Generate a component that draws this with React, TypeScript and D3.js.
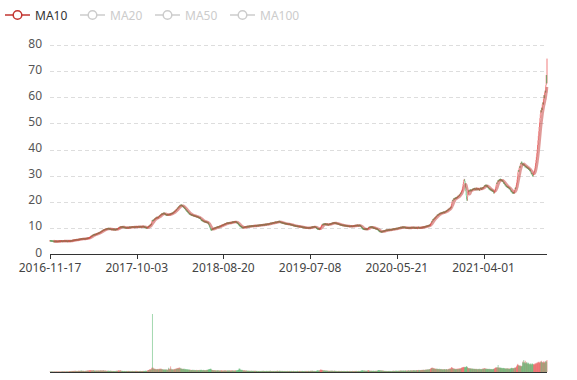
import React from 'react';
import * as d3 from 'd3';

// x-axis tick labels (one label every `tickStep` trading days, first at index 0)
const tickLabels = ['2016-11-17', '2017-10-03', '2018-08-20', '2019-07-08', '2020-05-21', '2021-04-01'];
const tickStep = 220;

const legendNames = ['MA10', 'MA20', 'MA50', 'MA100'];
const activeLegend = ['MA10'];
const yTickValues = [0, 10, 20, 30, 40, 50, 60, 70, 80];

// daily closing prices
const closes = [
5.1,5.0,5.1,5.0,4.9,5.0,4.9,4.9,4.8,4.9,4.8,4.8,4.7,4.8,4.8,4.9,4.8,4.7,4.8,4.8,4.9,4.8,4.8,4.9,4.9,
4.8,4.9,4.9,5.0,4.9,4.9,4.8,4.9,5.0,4.9,4.9,5.0,5.0,4.9,5.0,4.9,4.9,5.0,4.9,4.8,4.9,4.9,5.0,4.9,4.9,
5.0,5.0,4.9,5.0,5.1,5.0,5.1,5.2,5.1,5.2,5.3,5.2,5.3,5.3,5.4,5.3,5.4,5.5,5.4,5.4,5.5,5.4,5.5,5.6,5.5,
5.6,5.7,5.6,5.7,5.8,5.7,5.8,5.8,5.7,5.8,5.9,5.8,5.8,5.7,5.8,5.9,5.8,5.9,6.0,5.9,6.0,6.1,6.0,6.1,6.2,
6.2,6.3,6.5,6.6,6.8,6.7,6.9,7.1,7.0,7.2,7.4,7.3,7.5,7.4,7.3,7.5,7.6,7.5,7.7,7.8,7.7,7.9,8.0,7.9,8.1,
8.2,8.1,8.3,8.5,8.4,8.6,8.8,8.7,8.9,9.1,9.0,9.2,9.3,9.2,9.4,9.5,9.3,9.5,9.6,9.5,9.7,9.6,9.8,9.7,9.6,
9.7,9.6,9.5,9.6,9.4,9.5,9.3,9.4,9.5,9.3,9.4,9.3,9.5,9.4,9.3,9.2,9.4,9.3,9.5,9.4,9.6,9.5,9.7,9.8,9.9,
10.0,10.2,10.1,10.3,10.4,10.2,10.4,10.3,10.5,10.3,10.2,10.4,10.2,10.1,10.2,10.0,10.1,10.0,9.9,10.1,10.0,10.1,10.2,10.0,10.1,
10.2,10.1,10.3,10.2,10.1,10.2,10.3,10.2,10.3,10.4,10.3,10.2,10.3,10.4,10.3,10.2,10.3,10.4,10.3,10.4,10.5,10.3,10.4,10.3,10.4,
10.5,10.4,10.3,10.4,10.5,10.4,10.3,10.4,10.5,10.4,10.5,10.6,10.4,10.5,10.3,10.2,10.3,10.1,10.0,10.1,10.0,9.9,10.1,10.2,10.4,
10.6,10.5,10.8,11.0,10.9,11.2,11.4,11.3,12.4,12.9,12.6,12.8,13.0,12.9,13.2,13.4,13.3,13.6,13.8,13.7,13.9,14.1,13.9,14.0,13.8,
14.1,14.3,14.6,14.4,14.8,15.0,14.8,15.2,15.4,15.1,15.5,15.3,15.6,15.4,15.7,15.5,15.2,15.4,15.1,14.9,15.0,14.8,15.1,14.9,15.0,
15.2,14.9,15.1,15.3,15.0,15.2,15.5,15.3,15.6,15.4,15.7,15.5,15.8,16.0,15.9,16.2,16.4,16.3,16.6,16.8,17.0,16.9,17.3,17.6,17.4,
17.8,18.1,17.9,18.3,18.6,18.4,18.7,18.5,18.8,18.6,18.3,18.5,18.2,17.9,18.1,17.7,17.4,17.6,17.2,16.9,17.0,16.6,16.3,16.5,16.1,
15.8,16.0,15.6,15.3,15.5,15.1,15.3,14.9,15.1,14.8,15.0,14.7,14.9,14.6,14.8,14.5,14.7,14.4,14.6,14.3,14.5,14.2,14.4,14.1,14.3,
14.0,14.2,13.9,13.7,13.9,13.6,13.8,13.4,13.1,12.8,13.0,12.7,12.9,12.6,12.4,12.6,12.3,12.5,12.2,12.4,12.1,12.3,12.0,12.2,11.9,
12.1,11.8,11.6,11.2,10.8,10.4,10.0,9.6,9.3,9.1,9.4,9.2,9.5,9.7,9.6,9.8,9.7,9.9,10.0,9.9,10.1,10.0,10.2,10.1,10.3,
10.2,10.4,10.3,10.5,10.4,10.6,10.5,10.7,10.6,10.8,10.9,11.0,10.9,11.1,11.2,11.1,11.3,11.4,11.3,11.5,11.6,11.5,11.7,11.8,11.7,
11.9,11.8,11.7,11.9,11.8,12.0,11.9,11.8,12.0,12.1,11.9,12.0,12.2,12.1,12.3,12.2,12.1,12.3,12.4,12.2,12.3,12.4,12.2,12.1,12.0,
11.9,11.8,11.6,11.4,11.2,11.0,10.9,10.7,10.5,10.6,10.4,10.3,10.2,10.0,10.1,10.2,10.0,10.1,10.3,10.2,10.3,10.4,10.3,10.5,10.4,
10.5,10.4,10.6,10.5,10.4,10.6,10.5,10.7,10.6,10.5,10.7,10.6,10.8,10.7,10.6,10.8,10.7,10.6,10.8,10.9,10.7,10.8,10.9,10.8,10.7,
10.9,10.8,11.0,10.9,10.8,11.0,10.9,11.1,11.0,10.9,11.1,11.0,11.2,11.1,11.0,11.2,11.1,11.3,11.2,11.1,11.3,11.2,11.4,11.3,11.2,
11.4,11.3,11.5,11.4,11.3,11.5,11.6,11.5,11.7,11.6,11.8,11.7,11.6,11.8,11.9,11.8,12.0,11.9,11.8,12.0,12.1,12.0,12.2,12.1,12.0,
12.2,12.1,12.3,12.2,12.4,12.3,12.5,12.4,12.2,12.3,12.1,12.0,12.1,11.9,12.0,11.8,11.9,11.8,11.7,11.8,11.6,11.7,11.6,11.5,11.6,
11.5,11.6,11.4,11.5,11.3,11.4,11.5,11.3,11.4,11.3,11.2,11.3,11.1,11.2,11.0,11.1,10.9,11.0,10.9,10.8,10.9,10.7,10.8,10.7,10.6,
10.7,10.6,10.7,10.5,10.6,10.5,10.6,10.4,10.5,10.6,10.4,10.5,10.3,10.4,10.3,10.2,10.3,10.2,10.1,10.2,10.1,10.2,10.0,10.1,10.0,
10.1,9.9,10.0,10.1,9.9,10.0,9.9,10.0,10.1,10.0,9.9,10.1,10.2,10.1,10.3,10.2,10.4,10.3,10.2,10.4,10.5,10.3,10.4,10.2,10.3,
10.1,10.0,9.8,9.7,9.6,9.5,9.7,9.6,9.4,9.5,9.7,9.9,10.3,10.6,10.9,11.1,11.3,11.2,11.4,11.3,11.5,11.4,11.3,11.5,11.4,
11.3,11.2,11.4,11.3,11.2,11.3,11.1,11.2,11.4,11.3,11.5,11.4,11.6,11.5,11.7,11.6,11.8,11.7,11.9,11.8,11.9,12.0,11.8,11.9,11.8,
11.7,11.8,11.6,11.7,11.5,11.6,11.4,11.5,11.3,11.4,11.2,11.3,11.1,11.2,11.0,11.1,11.0,10.9,11.0,10.9,11.0,10.8,10.9,10.8,10.9,
10.8,10.7,10.8,10.7,10.8,10.6,10.7,10.6,10.7,10.5,10.6,10.7,10.5,10.6,10.7,10.6,10.5,10.6,10.7,10.6,10.7,10.8,10.7,10.8,10.9,
10.8,10.9,10.8,10.9,11.0,10.9,10.8,10.9,10.8,11.0,10.9,10.8,10.9,10.7,10.5,10.3,10.1,9.9,9.7,9.6,9.5,9.6,9.4,9.5,9.4,
9.6,9.5,9.4,9.6,9.5,9.4,9.6,9.8,10.0,10.2,10.1,10.3,10.2,10.4,10.3,10.2,10.4,10.3,10.1,10.2,10.0,9.9,10.0,9.8,9.9,
9.7,9.8,9.6,9.7,9.5,9.6,9.4,9.3,9.1,8.9,8.8,8.6,8.7,8.5,8.6,8.5,8.4,8.6,8.5,8.7,8.6,8.8,8.7,8.9,8.8,
9.0,8.9,9.1,9.0,9.2,9.1,9.0,9.2,9.1,9.3,9.2,9.1,9.3,9.2,9.4,9.3,9.2,9.4,9.3,9.5,9.4,9.6,9.5,9.4,9.6,
9.5,9.7,9.6,9.8,9.7,9.6,9.8,9.7,9.9,9.8,10.0,9.9,10.1,10.0,10.2,10.1,10.0,10.2,10.1,10.3,10.2,10.1,10.3,10.2,10.1,
10.2,10.1,10.0,10.1,9.9,10.0,10.1,9.9,10.0,9.9,10.1,10.0,9.9,10.0,10.1,10.0,9.9,10.1,10.2,10.0,10.1,10.0,10.2,10.1,10.0,
10.1,10.0,9.9,10.0,10.1,10.0,9.9,10.0,10.1,10.2,10.0,10.1,10.0,9.9,10.0,10.1,10.0,10.1,10.2,10.1,10.2,10.3,10.2,10.3,10.4,
10.3,10.4,10.5,10.4,10.6,10.5,10.7,10.6,10.8,10.7,10.9,10.8,11.0,10.9,11.1,11.3,11.6,12.0,12.4,12.3,12.8,13.2,13.0,13.4,13.3,
13.6,13.9,13.7,14.1,14.4,14.2,14.6,14.9,14.7,15.1,14.9,15.2,15.4,15.3,15.6,15.4,15.7,15.5,15.8,15.6,15.9,15.7,16.0,15.8,16.1,
16.0,15.8,16.1,16.3,16.2,16.5,16.4,16.7,16.6,16.9,17.1,16.9,17.3,17.5,17.2,17.6,17.9,17.7,18.6,19.4,20.1,20.6,20.3,20.8,21.2,
20.9,21.3,21.1,21.5,21.2,21.6,21.4,21.8,21.5,21.9,22.2,21.9,22.3,22.6,22.4,22.9,23.3,23.1,23.7,24.0,24.2,25.0,25.9,26.8,27.6,
28.3,28.6,27.9,27.0,25.6,24.0,22.4,20.9,20.4,21.9,23.0,23.6,24.3,23.9,24.5,24.1,24.7,24.3,24.0,24.6,24.2,24.8,24.5,25.0,24.6,
25.1,24.8,25.2,24.9,24.5,24.9,25.3,24.8,24.4,24.9,25.2,24.7,25.1,24.6,24.3,24.8,25.2,24.9,25.4,25.0,24.6,25.1,25.5,25.1,25.6,
25.3,25.8,26.2,25.9,26.4,26.0,26.5,26.1,25.7,26.2,25.8,25.3,25.6,25.1,24.8,25.2,24.7,24.4,24.9,24.5,24.1,24.6,24.2,23.9,24.3,
23.7,23.2,23.6,23.9,24.4,25.1,25.9,26.6,27.2,27.0,27.6,28.1,27.7,28.3,28.0,28.6,28.2,28.7,28.4,28.0,28.5,28.1,27.7,28.2,27.8,
27.4,27.0,27.3,26.8,26.4,26.7,26.2,25.8,26.1,25.7,25.4,25.8,25.3,25.6,25.2,24.9,25.3,24.8,24.5,24.1,23.8,24.2,23.6,23.3,23.7,
23.2,23.6,23.1,23.9,24.6,25.3,25.0,25.8,26.4,27.3,28.5,29.8,31.2,32.0,31.6,32.8,33.5,33.1,34.2,34.8,34.4,35.3,34.9,34.5,34.0,
34.6,34.2,33.8,34.3,33.7,33.2,33.8,33.4,32.9,33.5,33.1,32.6,33.2,32.7,32.3,32.8,32.2,31.8,32.3,31.6,31.2,30.6,31.0,30.4,30.0,
29.8,30.2,30.8,31.5,32.0,32.8,33.6,34.8,36.0,37.2,38.6,40.0,41.8,43.5,45.2,47.0,48.6,50.4,52.0,53.5,55.0,54.2,56.0,55.1,57.3,
58.0,57.2,59.5,60.8,59.6,61.9,62.5,61.8,64.6,68.5,65.3,74.8
];

// daily volume (relative units)
const volumes = [
2,3,2,2,3,2,2,3,2,2,2,3,2,2,2,3,2,2,3,2,2,2,3,2,2,
3,2,2,3,2,3,4,3,2,3,3,4,3,2,3,3,2,3,4,3,3,2,3,3,4,
4,5,4,3,5,4,6,5,4,5,6,5,4,6,7,5,4,5,6,5,4,5,6,7,5,
6,5,7,6,5,8,6,5,6,7,5,6,5,4,6,5,6,7,5,6,7,8,6,7,9,
8,7,9,8,10,7,8,9,7,8,10,8,6,7,8,7,6,8,7,6,7,8,6,7,8,
7,6,8,7,9,8,7,6,8,7,9,8,7,6,7,8,6,7,6,5,7,6,5,6,7,
6,5,6,5,7,6,5,4,6,5,4,5,6,5,4,5,6,4,5,6,7,6,5,7,8,
7,8,6,7,9,7,6,5,6,5,6,4,5,4,5,6,4,5,4,5,6,5,4,5,6,
5,4,5,6,4,5,4,5,4,6,5,4,5,4,5,4,6,5,4,5,6,4,5,4,5,
4,5,4,5,6,4,5,4,5,4,5,6,5,4,6,5,4,6,7,5,6,5,7,8,9,
10,9,12,14,11,13,15,12,22,18,300,24,20,16,18,15,17,14,16,13,15,12,14,16,13,
15,13,17,14,16,18,15,13,17,14,12,15,13,11,14,12,13,11,12,14,11,13,12,10,12,
14,22,18,15,12,16,29,18,14,12,15,13,11,14,12,16,13,15,17,14,18,16,19,21,17,
19,22,18,20,24,19,17,21,18,16,15,17,14,16,15,18,14,13,16,14,12,15,13,11,14,
13,11,12,14,11,10,12,9,11,10,9,11,10,12,9,10,8,11,9,10,8,9,11,8,10,
9,8,10,9,11,8,9,10,12,11,9,10,8,9,11,10,8,9,10,8,9,10,8,11,12,
10,11,13,14,12,15,16,14,18,13,12,11,10,9,10,8,9,10,8,7,9,8,7,8,9,
8,7,9,8,7,8,6,7,8,9,7,8,6,7,8,7,6,8,7,9,8,7,6,7,8,
7,8,6,7,9,8,7,6,8,7,6,9,8,7,8,6,7,8,7,6,8,7,9,8,7,
8,9,10,12,11,19,14,17,12,10,11,9,12,10,8,9,7,8,9,7,8,6,7,8,7,
6,7,5,6,7,6,5,7,6,5,6,7,5,6,5,7,6,5,6,5,7,6,5,6,5,
6,5,4,6,5,4,5,6,4,5,4,6,5,4,5,6,7,5,4,5,6,5,4,5,6,
5,6,4,5,6,5,4,6,5,7,6,5,4,5,6,5,4,5,6,4,5,6,5,4,5,
6,5,7,6,5,4,6,5,7,6,5,4,5,6,4,5,6,5,4,5,4,6,5,4,5,
4,5,6,4,5,4,5,6,5,4,5,4,6,5,4,5,4,5,6,4,5,4,5,4,5,
4,5,4,6,5,4,5,4,5,6,4,5,4,5,4,6,5,4,5,4,5,4,6,5,4,
5,4,6,5,4,5,6,4,5,4,6,5,7,6,5,6,7,5,6,5,4,6,5,4,5,
6,5,7,6,8,9,7,6,8,7,9,11,13,12,10,9,11,8,9,7,8,9,7,8,7,
6,7,8,6,7,6,5,7,6,5,6,7,5,6,7,6,5,7,6,5,6,5,7,6,5,
6,5,4,6,5,4,5,6,4,5,6,5,4,5,4,6,5,4,5,4,5,6,4,5,4,
5,4,5,4,6,5,4,5,4,5,4,6,5,4,5,4,5,4,6,5,4,5,4,5,6,
5,4,5,6,4,5,4,5,6,5,4,5,6,5,7,6,8,9,7,8,6,7,8,6,7,
6,7,5,6,7,6,8,7,9,8,7,6,7,6,5,6,7,5,6,5,7,6,5,6,5,
6,5,7,6,5,7,6,8,9,10,8,9,7,8,9,7,8,6,7,8,6,7,6,5,6,
5,6,5,4,6,5,4,5,6,5,4,6,5,4,5,6,5,4,5,6,5,7,6,5,6,
5,6,7,5,6,7,5,6,5,7,6,5,7,6,8,7,6,7,8,6,7,6,7,8,6,
7,6,8,7,6,7,8,6,7,9,8,7,6,8,7,9,8,7,9,8,7,8,10,8,9,
8,9,7,8,10,9,8,9,10,8,9,11,10,9,8,10,9,11,10,9,11,10,12,11,10,
11,10,12,11,13,12,11,13,12,14,13,12,14,15,13,16,18,20,22,19,21,23,18,20,17,
19,18,16,17,15,18,16,14,17,15,16,14,15,17,13,15,14,16,13,15,14,12,15,13,14,
13,15,14,12,14,13,15,14,12,13,15,14,16,18,15,17,19,16,22,25,24,21,18,20,17,
16,18,15,17,14,16,15,17,14,16,18,15,17,19,16,18,20,17,19,21,23,25,22,24,26,
24,27,25,22,26,24,28,30,27,25,22,20,18,21,19,17,20,18,16,19,17,15,18,16,17,
15,17,16,14,16,15,17,14,16,15,13,16,14,15,17,14,16,15,13,16,14,15,17,16,18,
16,18,20,17,19,16,18,17,15,17,16,14,16,15,17,14,16,15,13,16,14,15,13,14,16,
15,17,16,18,20,22,24,21,23,25,22,24,36,23,21,24,22,20,23,21,19,22,20,18,21,
19,21,18,20,17,19,18,16,19,17,20,18,16,19,17,15,18,16,19,17,20,22,19,21,18,
20,18,21,19,22,24,21,23,26,30,34,38,42,36,33,35,31,34,30,33,29,32,28,31,50,
55,48,62,52,45,50,58,47,43,49,52,46,41,44,48,40,43,38,42,39,45,41,37,40,44,
42,38,41,36,40,44,39,43,47,42,46,50,45,49,53,48,52,46,50,55,49,53,58,51,47,
52,48,55,50,46,53,49,56,51,58,54,62
];

const W = 577;
const H = 380;
const UP = '#eb5454';
const DOWN = '#47b262';
const MA_COLOR = '#c23531';
const INACTIVE = '#cccccc';
const FONT = "'Noto Sans', 'Open Sans', sans-serif";

export default function App() {
  const n = Math.min(closes.length, volumes.length);
  const idx = d3.range(n);
  const opens = idx.map((i) => (i === 0 ? closes[0] - 0.1 : closes[i - 1]));

  const x = d3.scalePoint<number>().domain(idx).range([50, 547]).padding(0);
  const y = d3.scaleLinear().domain([0, 80]).range([254, 45]);
  const vy = d3.scaleLinear().domain([0, d3.max(volumes) as number]).range([372, 314]);

  // candles: vertical strokes from open to close
  let upPath = '';
  let downPath = '';
  idx.forEach((i) => {
    const o = opens[i];
    const c = closes[i];
    const xi = x(i) as number;
    let y1 = y(Math.max(o, c));
    let y2 = y(Math.min(o, c));
    if (y2 - y1 < 1.6) {
      const m = (y1 + y2) / 2;
      y1 = m - 0.8;
      y2 = m + 0.8;
    }
    const seg = `M${xi.toFixed(2)},${y1.toFixed(2)}V${y2.toFixed(2)}`;
    if (c >= o) upPath += seg;
    else downPath += seg;
  });

  let vUp = '';
  let vDown = '';
  idx.forEach((i) => {
    const xi = x(i) as number;
    const seg = `M${xi.toFixed(2)},${vy(0).toFixed(2)}V${vy(volumes[i]).toFixed(2)}`;
    if (closes[i] >= opens[i]) vUp += seg;
    else vDown += seg;
  });

  const ma10 = idx.map((i) => (i < 9 ? null : (d3.mean(closes.slice(i - 9, i + 1)) as number)));
  const maLine = d3
    .line<number | null>()
    .defined((d) => d != null)
    .x((_, i) => x(i) as number)
    .y((d) => y(d as number))
    .curve(d3.curveMonotoneX);

  const tickIdx = tickLabels.map((_, k) => k * tickStep).filter((i) => i < n);
  const [xMin, xMax] = x.range();

  return (
    <svg
      width={W}
      height={H}
      viewBox={`0 0 ${W} ${H}`}
      style={{ position: 'absolute', left: 0, top: 0, background: '#fff', fontFamily: FONT }}
    >
      {/* legend */}
      {legendNames.map((name, k) => {
        const active = activeLegend.includes(name);
        const col = active ? MA_COLOR : INACTIVE;
        const x0 = 5 + k * 75;
        return (
          <g key={name}>
            <line x1={x0} x2={x0 + 25} y1={15} y2={15} stroke={col} strokeWidth={1.5} />
            <circle cx={x0 + 12.5} cy={15} r={4.3} fill="#fff" stroke={col} strokeWidth={1.5} />
            <text x={x0 + 30} y={19.5} fontSize={12} fill={active ? '#333' : INACTIVE}>
              {name}
            </text>
          </g>
        );
      })}

      {/* y split lines and labels */}
      {yTickValues.map((v) => (
        <g key={v}>
          {v > 0 && (
            <line
              x1={xMin}
              x2={xMax}
              y1={Math.round(y(v)) + 0.5}
              y2={Math.round(y(v)) + 0.5}
              stroke="#dddddd"
              strokeDasharray="4,3"
            />
          )}
          <text x={xMin - 8} y={y(v) + 2.5} fontSize={12} fill="#555" textAnchor="end">
            {v}
          </text>
        </g>
      ))}

      {/* candles */}
      <path d={upPath} stroke={UP} strokeWidth={0.9} strokeOpacity={0.85} fill="none" />
      <path d={downPath} stroke={DOWN} strokeWidth={0.9} strokeOpacity={0.85} fill="none" />

      {/* MA10 */}
      <path d={maLine(ma10) || ''} stroke={MA_COLOR} strokeWidth={2.6} strokeOpacity={0.5} fill="none" strokeLinejoin="round" />

      {/* x axis */}
      <line x1={xMin} x2={xMax} y1={254.5} y2={254.5} stroke="#333" />
      {tickIdx.map((i, k) => (
        <g key={i}>
          <line x1={Math.round(x(i) as number) + 0.5} x2={Math.round(x(i) as number) + 0.5} y1={254} y2={259} stroke="#333" />
          <text x={x(i) as number} y={272} fontSize={12} fill="#444" textAnchor="middle">
            {tickLabels[k]}
          </text>
        </g>
      ))}

      {/* volume */}
      <path d={vUp} stroke={UP} strokeWidth={1} strokeOpacity={0.5} fill="none" />
      <path d={vDown} stroke={DOWN} strokeWidth={1} strokeOpacity={0.5} fill="none" />
      <line x1={xMin} x2={xMax} y1={372.5} y2={372.5} stroke="#333" />
    </svg>
  );
}
